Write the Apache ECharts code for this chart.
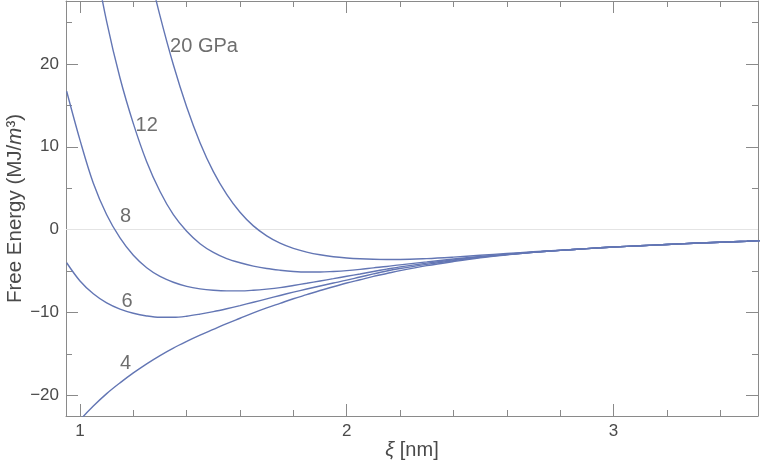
<!DOCTYPE html>
<html>
<head>
<meta charset="utf-8">
<script src="https://cdn.jsdelivr.net/npm/echarts@6/dist/echarts.min.js"></script>
<style>html,body{margin:0;padding:0;background:#fff}#c{width:760px;height:467px}</style>
</head>
<body>
<div id="c"></div>
<script>
// ---- data ----
const xi = [0.95,1.0,1.05,1.1,1.15,1.2,1.25,1.3,1.35,1.4,1.45,1.5,1.55,1.6,1.65,1.7,1.75,1.8,1.85,1.9,1.95,2.0,2.05,2.1,2.15,2.2,2.3,2.4,2.5,2.6,2.7,2.8,2.9,3.0,3.1,3.2,3.3,3.4,3.5,3.55];
const p20 = [null,null,null,null,null,null,32.4,25.8,19.9,14.8,10.5,7.0,4.25,2.1,0.45,-0.75,-1.63,-2.26,-2.71,-3.04,-3.27,-3.42,-3.52,-3.58,-3.6,-3.6,-3.5,-3.32,-3.1,-2.88,-2.68,-2.49,-2.3,-2.1,-1.95,-1.8,-1.65,-1.52,-1.4,-1.33];
const p12 = [null,null,33.5,25.1,18.3,12.8,8.2,4.6,1.8,-0.2,-1.7,-2.75,-3.5,-4.0,-4.4,-4.7,-4.9,-5.05,-5.12,-5.12,-5.05,-4.95,-4.8,-4.62,-4.45,-4.25,-3.9,-3.55,-3.25,-2.98,-2.72,-2.5,-2.3,-2.1,-1.95,-1.8,-1.65,-1.52,-1.4,-1.33];
const p8  = [16.7,10.8,5.6,1.8,-1.0,-3.1,-4.6,-5.65,-6.35,-6.85,-7.15,-7.32,-7.4,-7.4,-7.32,-7.18,-7.0,-6.75,-6.48,-6.2,-5.92,-5.63,-5.35,-5.05,-4.77,-4.5,-4.05,-3.65,-3.3,-3.0,-2.73,-2.5,-2.3,-2.1,-1.95,-1.8,-1.65,-1.52,-1.4,-1.33];
const p6  = [-4.0,-6.2,-7.75,-8.85,-9.6,-10.1,-10.42,-10.58,-10.58,-10.45,-10.2,-9.9,-9.55,-9.17,-8.77,-8.36,-7.95,-7.55,-7.17,-6.8,-6.45,-6.1,-5.72,-5.35,-5.0,-4.7,-4.2,-3.75,-3.35,-3.02,-2.74,-2.5,-2.3,-2.1,-1.95,-1.8,-1.65,-1.52,-1.4,-1.33];
const p4  = [-25.0,-23.0,-21.3,-19.8,-18.5,-17.3,-16.2,-15.2,-14.3,-13.5,-12.75,-12.05,-11.35,-10.7,-10.05,-9.45,-8.9,-8.35,-7.85,-7.35,-6.9,-6.45,-6.05,-5.65,-5.3,-4.95,-4.35,-3.85,-3.4,-3.05,-2.75,-2.5,-2.3,-2.1,-1.95,-1.8,-1.65,-1.52,-1.4,-1.33];
const curveNames = ['20 GPa','12','8','6','4'];
const labelText = ['20 GPa','12','8','6','4'];
const labelX = [1.465,1.25,1.171,1.176,1.171];
const labelY = [22.1,12.55,1.54,-8.72,-16.1];
const xMajor = [1,2,3];
const xMinor = [1.2,1.4,1.6,1.8,2.2,2.4,2.6,2.8,3.2,3.4];
const yMajor = [-20,-10,0,10,20];
const yMinor = [-15,-5,5,15,25];
const X_MIN = 0.9475, X_MAX = 3.542, Y_MIN = -22.5, Y_MAX = 27.6;

// ---- chart ----
const FONT = 'Liberation Sans, Arial, sans-serif';
const FRAME = '#8a8a8a';
const LINE = '#6376b4';
const TXT = '#4a4a4a';
const chart = echarts.init(document.getElementById('c'), null, {renderer:'canvas'});
const fmt = v => v < 0 ? '\u2212' + Math.abs(v) : String(v);

function ax(kind, grid, pos, ticks, len, showLine, opts) {
  return Object.assign({
    type:'value', gridIndex:grid, position:pos,
    min: kind === 'x' ? X_MIN : Y_MIN, max: kind === 'x' ? X_MAX : Y_MAX,
    axisLine:{show:showLine, onZero:false, lineStyle:{color:FRAME, width:1}},
    axisTick:{show:true, inside:true, length:len, customValues:ticks, lineStyle:{color:FRAME, width:1}},
    axisLabel:{show:false}, splitLine:{show:false}
  }, opts || {});
}

const gridBox = {left:66, right:2, top:1, bottom:51, containLabel:false, outerBoundsMode:'none'};

const series = [p20,p12,p8,p6,p4].map((arr, k) => ({
  name: curveNames[k], type:'line', xAxisIndex:0, yAxisIndex:0,
  data: xi.map((x, i) => [x, arr[i]]),
  showSymbol:false, smooth:0.35, connectNulls:false, clip:true,
  lineStyle:{color:LINE, width:1.4}, itemStyle:{color:LINE},
  z:3,
  markLine: k === 0 ? {silent:true, symbol:'none', label:{show:false},
    lineStyle:{color:'#e4e4e4', width:1, type:'solid'}, data:[{yAxis:0}], z:1} : undefined
}));
series.push({
  type:'scatter', xAxisIndex:0, yAxisIndex:0, symbolSize:0, silent:true,
  data: labelText.map((t, i) => ({value:[labelX[i], labelY[i]], name:t})),
  label:{show:true, position:'inside', formatter:p => p.name, color:TXT, fontSize:20, fontFamily:FONT},
  z:5
});
series.push({type:'line', xAxisIndex:2, yAxisIndex:2, data:[], silent:true});

chart.setOption({
  animation:false,
  backgroundColor:'#fff',
  grid:[Object.assign({}, gridBox), Object.assign({}, gridBox)],
  xAxis:[
    ax('x', 0, 'bottom', xMajor, 12, true, {
      axisLabel:{show:true, customValues:xMajor, formatter:fmt, fontSize:17, color:TXT, fontFamily:FONT, margin:7},
      name:'{i|ξ} [nm]', nameLocation:'middle', nameGap:24, nameMoveOverlap:false,
      nameTextStyle:{fontSize:20, color:TXT, fontFamily:FONT, rich:{i:{fontStyle:'italic', fontSize:20, color:TXT, fontFamily:FONT}}}
    }),
    ax('x', 0, 'top', xMajor, 12, true),
    ax('x', 1, 'bottom', xMinor, 6, false),
    ax('x', 1, 'top', xMinor, 6, false)
  ],
  yAxis:[
    ax('y', 0, 'left', yMajor, 12, true, {
      axisLabel:{show:true, customValues:yMajor, formatter:fmt, fontSize:17, color:TXT, fontFamily:FONT, margin:7},
      name:'Free Energy (MJ/{i|m}³)', nameLocation:'middle', nameGap:40, nameRotate:90, nameMoveOverlap:false,
      nameTextStyle:{fontSize:20.5, color:TXT, fontFamily:FONT, rich:{i:{fontStyle:'italic', fontSize:20.5, color:TXT, fontFamily:FONT}}}
    }),
    ax('y', 0, 'right', yMajor, 12, true),
    ax('y', 1, 'left', yMinor, 6, false),
    ax('y', 1, 'right', yMinor, 6, false)
  ],
  series: series
});
</script>
</body>
</html>
